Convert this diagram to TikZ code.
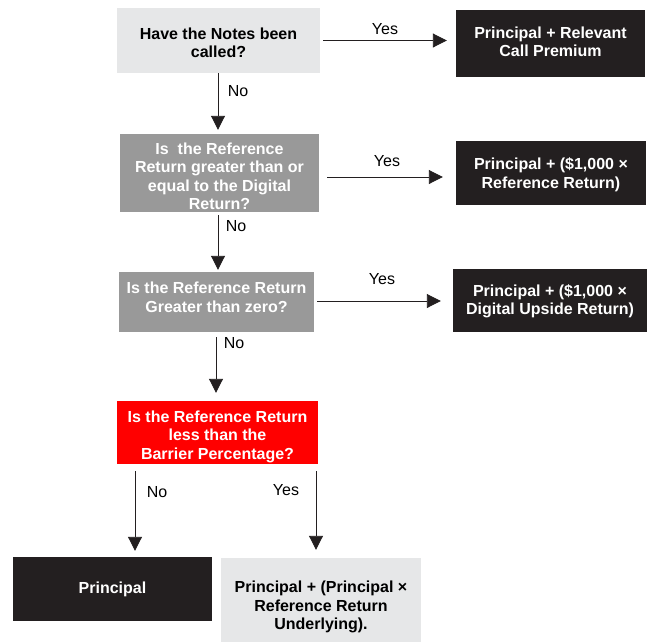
\documentclass[tikz,border=0pt]{standalone}
\usepackage{fontspec}
\setmainfont{Liberation Sans}
\usetikzlibrary{arrows.meta}

\definecolor{boxblack}{HTML}{231F20}
\definecolor{boxgrey}{HTML}{999999}
\definecolor{boxlight}{HTML}{E6E7E8}
\definecolor{boxred}{HTML}{FF0000}

% struts to nudge the text inside a box
\newcommand{\dn}[1]{\rule{0pt}{#1}}
\newcommand{\upr}[1]{\rule[-#1]{0pt}{0pt}}

\begin{document}
\begin{tikzpicture}[x=1pt, y=-1pt,
        every node/.style={font=\fontsize{16}{18.5}\selectfont},
        box/.style={inner sep=0pt, align=center, font=\bfseries\fontsize{16}{18.5}\selectfont},
        question/.style={box, fill=boxgrey, text=white},
        answer/.style={box, fill=boxblack, text=white},
        flow/.style={-{Triangle[length=14pt,width=14pt]}, line width=0.9pt, color=boxblack}]
        \useasboundingbox (0,0) rectangle (648,643);

        %Questions down the middle
        \node[box, fill=boxlight, minimum width=203, minimum height=65] (q1) at (218.5,40.5) {\dn{15.7pt}Have the Notes been\\called?};
        \node[question, minimum width=199, minimum height=78] (q2) at (219.5,173) {\dn{17.7pt}Is\ \ the Reference\\Return greater than or\\equal to the Digital\\Return?};
        \node[question, minimum width=195, minimum height=60] (q3) at (216.5,302) {Is the Reference Return\\Greater than zero?\upr{10pt}};
        \node[question, fill=boxred, minimum width=201, minimum height=63] (q4) at (217.5,432.5) {\dn{19.7pt}Is the Reference Return\\less than the\\Barrier Percentage?};

        %Payouts
        \node[answer, minimum width=189, minimum height=67] (a1) at (550.5,43.5) {Principal + Relevant\\Call Premium\upr{4pt}};
        \node[answer, minimum width=190, minimum height=64] (a2) at (551,173) {\dn{15.7pt}Principal + (\$1,000 ×\\Reference Return)};
        \node[answer, minimum width=194, minimum height=63] (a3) at (550,300.5) {\dn{13.7pt}Principal + (\$1,000 ×\\Digital Upside Return)};
        \node[answer, minimum width=199, minimum height=64] (pr) at (112.5,589) {Principal};
        \node[box, fill=boxlight, minimum width=200, minimum height=84] (rt) at (321,600) {\dn{25.7pt}Principal + (Principal ×\\Reference Return\\Underlying).};

        %Yes arrows to the right
        \draw[flow] ([xshift=3pt]q1.east) -- ([xshift=-9pt]q1.east -| a1.west);
        \draw[flow] ([xshift=8pt, yshift=-4pt]q2.east) -- ([xshift=-13pt, yshift=-4pt]q2.east -| a2.west);
        \draw[flow] ([xshift=3pt, yshift=1pt]q3.east) -- ([xshift=-12pt, yshift=1pt]q3.east -| a3.west);
        \node (yes1) at (385,29) {Yes};
        \node (yes2) at (387,161) {Yes};
        \node (yes3) at (382,279) {Yes};

        %No arrows down
        \draw[flow] ([xshift=-0.5pt]q1.south) -- ([xshift=-0.5pt, yshift=4pt]q1.south |- q2.north);
        \draw[flow] ([xshift=-1.5pt, yshift=-3pt]q2.south) -- ([xshift=-1.5pt, yshift=2pt]q2.south |- q3.north);
        \draw[flow] ([xshift=-0.5pt, yshift=-5pt]q3.south) -- ([xshift=-0.5pt, yshift=8pt]q3.south |- q4.north);
        \node (no1) at (238,91) {No};
        \node (no2) at (236,226) {No};
        \node (no3) at (234,343) {No};

        %Last split
        \coordinate (nofoot) at ([xshift=22.5pt]pr.north);
        \coordinate (yesfoot) at ([xshift=-5pt]rt.north);
        \draw[flow] ([yshift=-7pt]q4.south -| nofoot) -- ([yshift=6pt]nofoot);
        \draw[flow] ([yshift=-7pt]q4.south -| yesfoot) -- ([yshift=8pt]yesfoot);
        \node (no4) at (157,492) {No};
        \node (yes4) at (286,490) {Yes};
    \end{tikzpicture}
\end{document}
